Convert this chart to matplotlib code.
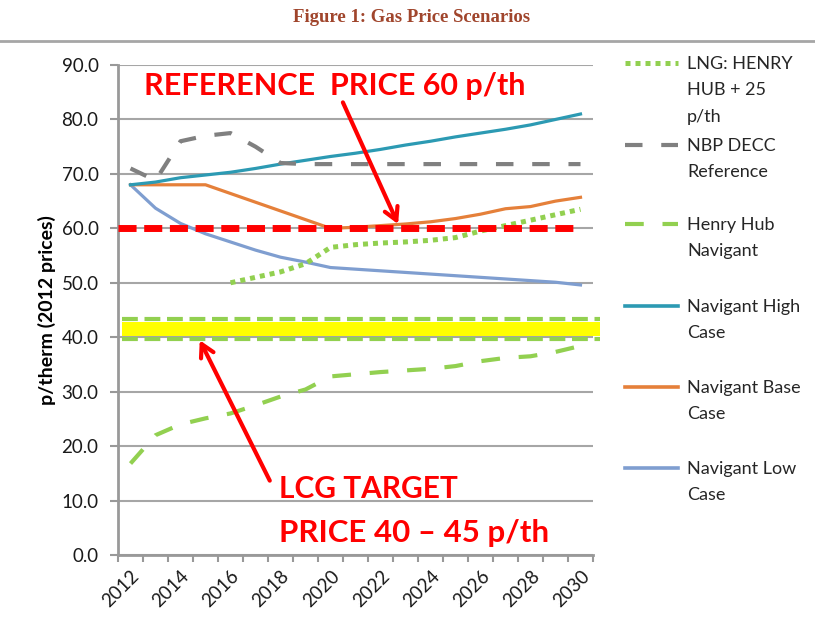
import numpy as np
import matplotlib
matplotlib.use('Agg')
import matplotlib.pyplot as plt
from matplotlib.lines import Line2D

# data (p/therm, 2012 prices)
years = list(range(2012, 2031))
lng_henry_hub = [None, None, None, None, 50.0, 51.0, 52.0, 53.5, 56.5, 57.0,
                 57.3, 57.5, 57.8, 58.3, 59.5, 60.5, 61.5, 62.5, 63.5]
nbp_decc = [71.0, 68.8, 76.0, 77.0, 77.5, 75.0, 72.0, 71.8, 71.8, 71.8,
            71.8, 71.8, 71.8, 71.8, 71.8, 71.8, 71.8, 71.8, 71.8]
henry_hub = [16.8, 22.0, 24.0, 25.1, 26.0, 27.5, 29.1, 30.4, 32.8, 33.2,
             33.6, 33.9, 34.2, 34.7, 35.6, 36.2, 36.5, 37.3, 38.4]
nav_high = [68.0, 68.5, 69.3, 69.8, 70.3, 71.0, 71.8, 72.5, 73.2, 73.8,
            74.5, 75.3, 76.0, 76.8, 77.5, 78.2, 79.0, 80.0, 81.0]
nav_base = [68.0, 68.0, 68.0, 68.0, 66.4, 64.8, 63.2, 61.6, 60.0, 60.2,
            60.5, 60.8, 61.2, 61.8, 62.6, 63.6, 64.0, 65.0, 65.7]
nav_low = [68.0, 63.7, 60.9, 59.0, 57.5, 56.0, 54.7, 53.8, 52.8, 52.5,
           52.2, 51.9, 51.6, 51.3, 51.0, 50.7, 50.4, 50.1, 49.6]

reference_price = 60.0
lcg_low, lcg_high = 40.2, 42.8          # yellow band
lcg_lines = [39.7, 43.4]                # green dashed edges of the band

green = '#92D050'
grey = '#808080'
teal = '#2C9AB3'
orange = '#E5803A'
lightblue = '#7F9ED0'
red = '#FF0000'

plt.rcParams['font.family'] = ['Lato', 'DejaVu Sans']

fig = plt.figure(figsize=(8.15, 6.21), dpi=100)
ax = fig.add_axes([0.1448, 0.1063, 0.5828, 0.789])

x = np.arange(len(years))
lng = np.array([np.nan if v is None else v for v in lng_henry_hub])

ax.plot(x, nav_low, color=lightblue, lw=2.3, zorder=3)
ax.plot(x, nav_base, color=orange, lw=2.3, zorder=3)
ax.plot(x, nav_high, color=teal, lw=2.3, zorder=3)
ax.plot(x, henry_hub, color=green, lw=3, dashes=(4.5, 4.5), zorder=3)
ax.plot(x, nbp_decc, color=grey, lw=3, dashes=(4.2, 4.5), zorder=3)
ax.plot(x, lng, color=green, lw=3.6, dashes=(1, 1), zorder=3)

# reference price and LCG target band
ax.axhline(reference_price, xmin=0, xmax=0.97, color=red, lw=5, dashes=(2.6, 1.1), zorder=4)
ax.axhspan(lcg_low, lcg_high, xmin=0.008, xmax=1.015, color='#FFFF00', lw=0,
           zorder=2, clip_on=False)
for v in lcg_lines:
    ax.axhline(v, xmin=0.008, xmax=1.015, color=green, lw=3, dashes=(3.8, 1.6),
               zorder=2, clip_on=False)

ax.set_ylim(0, 90)
ax.set_xlim(-0.5, len(years) - 0.5)
ax.set_yticks(np.arange(0, 91, 10))
ax.set_yticklabels(['%.1f' % v for v in np.arange(0, 91, 10)], fontsize=13.5, color='#1a1a1a')
ax.set_xticks(x[::2])
ax.set_xticklabels([str(y) for y in years[::2]], rotation=45, ha='right',
                   rotation_mode='anchor', fontsize=13.5, color='#1a1a1a')
ax.set_xticks(np.arange(-0.5, len(years), 1), minor=True)
ax.tick_params(axis='x', which='major', length=0, pad=9)
ax.tick_params(axis='x', which='minor', length=5, width=1.5, color='#999999', direction='out')
ax.tick_params(axis='y', length=6, width=1.5, color='#999999', direction='out', pad=8)
ax.grid(axis='y', color='#A6A6A6', lw=1.5, zorder=1)
ax.set_axisbelow(True)
for s in ['top', 'right']:
    ax.spines[s].set_visible(False)
for s in ['left', 'bottom']:
    ax.spines[s].set_color('#999999')
    ax.spines[s].set_linewidth(2)
ax.set_ylabel('p/therm (2012 prices)', fontsize=14, fontweight='bold', labelpad=4)

# annotations
ax.text(8.15, 86.2, 'REFERENCE  PRICE 60 p/th', color=red, fontsize=22, fontweight='bold',
        ha='center', va='center')
ax.annotate('', xy=(10.75, 60.3), xytext=(8.45, 83.6),
            arrowprops=dict(arrowstyle='->,head_length=0.9,head_width=0.5', color=red, lw=3))
ax.text(5.95, 10.5, 'LCG TARGET', color=red, fontsize=21.5, fontweight='bold',
        ha='left', va='baseline')
ax.text(5.95, 2.4, 'PRICE 40 \u2013 45 p/th', color=red, fontsize=22.5, fontweight='bold',
        ha='left', va='baseline')
ax.annotate('', xy=(2.72, 39.9), xytext=(5.62, 13.2),
            arrowprops=dict(arrowstyle='->,head_length=0.9,head_width=0.5', color=red, lw=3))

# title and rule
fig.text(0.505, 1 - 17 / 621, 'Figure 1: Gas Price Scenarios', family='Liberation Serif',
         fontweight='bold', fontsize=13.5, color='#A0452C', ha='center', va='center')
fig.add_artist(Line2D([0, 1], [1 - 41 / 621] * 2, color='#A6A6A6', lw=2))

# legend drawn beside the plot
legend_items = [
    ('LNG: HENRY\nHUB + 25\np/th', dict(color=green, lw=3.6, dashes=(1, 1)), 63),
    ('NBP DECC\nReference', dict(color=grey, lw=3, dashes=(4.2, 4.5)), 145),
    ('Henry Hub\nNavigant', dict(color=green, lw=3, dashes=(4.5, 4.5)), 224),
    ('Navigant High\nCase', dict(color=teal, lw=2.6), 306),
    ('Navigant Base\nCase', dict(color=orange, lw=2.6), 387),
    ('Navigant Low\nCase', dict(color=lightblue, lw=2.6), 468),
]
for label, style, ypix in legend_items:
    yf = 1 - ypix / 621
    fig.add_artist(Line2D([625 / 815, 678 / 815], [yf, yf], **style))
    fig.text(687 / 815, 1 - (ypix - 7) / 621, label, fontsize=13, color='#262626',
             ha='left', va='top', linespacing=1.8)

fig.savefig('out.png', dpi=100)
